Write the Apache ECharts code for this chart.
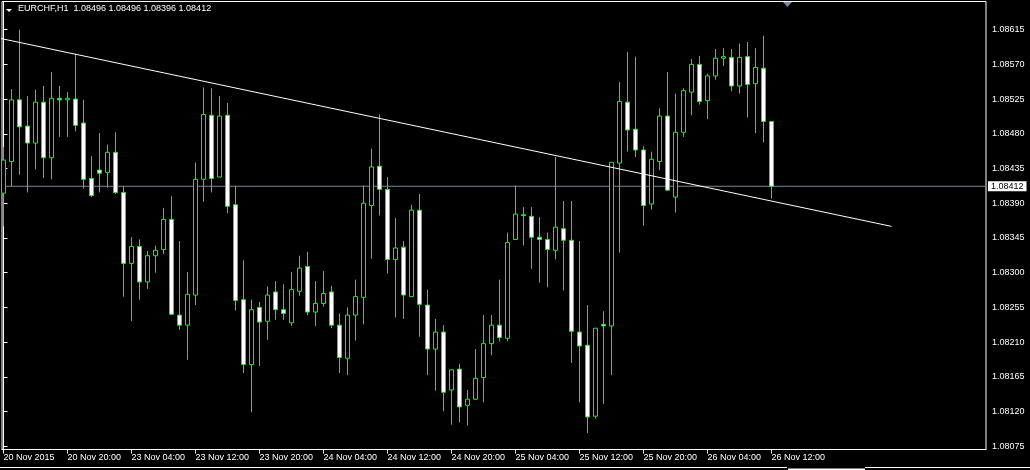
<!DOCTYPE html>
<html><head><meta charset="utf-8">
<script src="https://cdn.jsdelivr.net/npm/echarts@6/dist/echarts.min.js"></script>
<style>html,body{margin:0;padding:0;background:#000;}#c{width:1030px;height:470px;}</style>
</head><body><div id="c"></div>
<script>
const symbolName = "EURCHF,H1";
const openP = [1.08403,1.08444,1.08524,1.08490,1.08468,1.08521,1.08449,1.08526,1.08524,1.08525,
1.08494,1.08422,1.08433,1.08430,1.08456,1.08404,1.08312,1.08334,1.08288,1.08322,
1.08330,1.08369,1.08245,1.08232,1.08271,1.08421,1.08504,1.08424,1.08504,1.08388,
1.08265,1.08181,1.08255,1.08237,1.08275,1.08252,1.08235,1.08276,1.08308,1.08249,
1.08260,1.08275,1.08232,1.08189,1.08245,1.08268,1.08387,1.08438,1.08408,1.08317,
1.08333,1.08269,1.08381,1.08258,1.08201,1.08223,1.08148,1.08175,1.08128,1.08136,
1.08164,1.08208,1.08232,1.08215,1.08343,1.08375,1.08373,1.08346,1.08343,1.08329,
1.08357,1.08342,1.08223,1.08206,1.08114,1.08233,1.08231,1.08442,1.08521,1.08486,
1.08459,1.08389,1.08444,1.08503,1.08398,1.08482,1.08534,1.08570,1.08523,1.08555,
1.08578,1.08579,1.08542,1.08580,1.08545,1.08565,1.08496];
const highP = [1.08463,1.08538,1.08615,1.08529,1.08537,1.08542,1.08560,1.08542,1.08534,1.08584,
1.08524,1.08451,1.08481,1.08466,1.08482,1.08412,1.08346,1.08343,1.08328,1.08335,
1.08384,1.08399,1.08341,1.08301,1.08443,1.08540,1.08539,1.08529,1.08520,1.08412,
1.08316,1.08265,1.08262,1.08282,1.08289,1.08285,1.08301,1.08322,1.08327,1.08289,
1.08302,1.08283,1.08247,1.08255,1.08291,1.08413,1.08461,1.08505,1.08424,1.08371,
1.08341,1.08388,1.08402,1.08278,1.08240,1.08232,1.08175,1.08182,1.08148,1.08201,
1.08245,1.08245,1.08291,1.08352,1.08413,1.08385,1.08385,1.08372,1.08352,1.08450,
1.08393,1.08393,1.08341,1.08258,1.08228,1.08250,1.08443,1.08547,1.08586,1.08580,
1.08464,1.08457,1.08513,1.08560,1.08532,1.08539,1.08577,1.08581,1.08558,1.08590,
1.08591,1.08590,1.08597,1.08599,1.08591,1.08607,1.08496];
const lowP = [1.08360,1.08412,1.08427,1.08404,1.08434,1.08423,1.08421,1.08476,1.08476,1.08483,
1.08409,1.08398,1.08404,1.08410,1.08402,1.08269,1.08237,1.08265,1.08279,1.08300,
1.08324,1.08245,1.08226,1.08187,1.08258,1.08392,1.08404,1.08424,1.08377,1.08251,
1.08170,1.08119,1.08179,1.08213,1.08239,1.08239,1.08231,1.08270,1.08245,1.08231,
1.08256,1.08228,1.08170,1.08167,1.08212,1.08233,1.08318,1.08374,1.08299,1.08242,
1.08240,1.08269,1.08217,1.08167,1.08147,1.08120,1.08103,1.08106,1.08102,1.08135,
1.08132,1.08193,1.08211,1.08211,1.08343,1.08335,1.08305,1.08287,1.08281,1.08317,
1.08277,1.08183,1.08132,1.08092,1.08111,1.08130,1.08167,1.08326,1.08457,1.08450,
1.08361,1.08382,1.08433,1.08406,1.08378,1.08476,1.08504,1.08518,1.08499,1.08550,
1.08568,1.08535,1.08532,1.08501,1.08481,1.08469,1.08396];
const closeP = [1.08446,1.08524,1.08489,1.08468,1.08521,1.08449,1.08526,1.08524,1.08526,1.08491,
1.08421,1.08400,1.08429,1.08456,1.08404,1.08312,1.08334,1.08288,1.08322,1.08329,
1.08369,1.08246,1.08232,1.08272,1.08421,1.08505,1.08422,1.08503,1.08386,1.08264,
1.08181,1.08252,1.08236,1.08271,1.08252,1.08247,1.08278,1.08306,1.08249,1.08260,
1.08273,1.08232,1.08190,1.08245,1.08269,1.08390,1.08437,1.08408,1.08317,1.08332,
1.08271,1.08381,1.08259,1.08201,1.08223,1.08145,1.08174,1.08126,1.08136,1.08163,
1.08208,1.08232,1.08216,1.08339,1.08376,1.08374,1.08346,1.08343,1.08330,1.08359,
1.08342,1.08224,1.08205,1.08113,1.08228,1.08231,1.08443,1.08522,1.08485,1.08459,
1.08387,1.08447,1.08503,1.08407,1.08482,1.08536,1.08570,1.08522,1.08555,1.08578,
1.08580,1.08542,1.08579,1.08544,1.08566,1.08496,1.08412];
const timeTickIndex = [0,8,16,24,32,40,48,56,64,72,80,88,96];
const timeTickLabels = ["20 Nov 2015","20 Nov 20:00","23 Nov 04:00","23 Nov 12:00","23 Nov 20:00",
"24 Nov 04:00","24 Nov 12:00","24 Nov 20:00","25 Nov 04:00","25 Nov 12:00","25 Nov 20:00",
"26 Nov 04:00","26 Nov 12:00"];
const priceTicks = [1.08075,1.08120,1.08165,1.08210,1.08255,1.08300,1.08345,1.08390,1.08435,1.08480,1.08525,1.08570,1.08615];
const trendIndex = [-1, 111];
const trendPrice = [1.08605, 1.08360];
const bidPrice = 1.08412;

const FONT = 'Liberation Sans';
const X_MIN = -0.1875, X_MAX = 122.8125;
const last = openP.length - 1;
const candles = openP.map((o, i) => [i, o, closeP[i], lowP[i], highP[i]]);
const chart = echarts.init(document.getElementById('c'), null, {renderer: 'canvas'});
chart.setOption({
  backgroundColor: '#000',
  animation: false,
  title: {
    text: symbolName + '  ' + [openP[last], highP[last], lowP[last], closeP[last]].map(v => v.toFixed(5)).join(' '),
    left: 18, top: 4, padding: 0,
    textStyle: {color: '#fff', fontFamily: FONT, fontSize: 9, fontWeight: 'normal'}
  },
  grid: {left: 2, top: 1.5, width: 984, height: 448, show: true, borderColor: '#fff', borderWidth: 1, backgroundColor: '#000'},
  xAxis: {
    type: 'value', min: X_MIN, max: X_MAX,
    splitLine: {show: false},
    axisLine: {show: true, onZero: false, lineStyle: {color: '#fff'}},
    axisTick: {show: true, customValues: timeTickIndex, length: 4, lineStyle: {color: '#fff'}},
    axisLabel: {customValues: timeTickIndex, formatter: v => timeTickLabels[timeTickIndex.indexOf(v)],
      color: '#fff', fontFamily: FONT, fontSize: 9, align: 'left', margin: 4, showMinLabel: true, showMaxLabel: true}
  },
  yAxis: {
    type: 'value', position: 'right', min: 1.080708, max: 1.086515,
    splitLine: {show: false},
    axisLine: {show: true, lineStyle: {color: '#fff'}},
    axisTick: {show: true, customValues: priceTicks, length: 4, lineStyle: {color: '#fff'}},
    axisLabel: {customValues: priceTicks, formatter: v => v.toFixed(5), color: '#fff', fontFamily: FONT, fontSize: 9, margin: 6}
  },
  series: [
    {
      type: 'line', name: 'bid', data: [[X_MIN, bidPrice], [X_MAX, bidPrice]], symbol: 'none',
      lineStyle: {color: '#778899', width: 1}, z: 1, silent: true, clip: false,
      endLabel: {show: true, distance: 2, formatter: () => bidPrice.toFixed(5),
        backgroundColor: '#fff', color: '#000', fontFamily: FONT, fontSize: 9, padding: [1, 3, 0, 3]}
    },
    {
      type: 'candlestick', data: candles, encode: {x: 0, y: [1, 2, 3, 4]}, barWidth: 5,
      itemStyle: {color: '#000', color0: '#fff', borderColor: '#00ff00', borderColor0: '#00ff00', borderWidth: 1},
      z: 2
    },
    {
      type: 'line', data: trendIndex.map((x, i) => [x, trendPrice[i]]), symbol: 'none',
      lineStyle: {color: '#fff', width: 1}, z: 3, silent: true
    }
  ],
  graphic: [
    {type: 'polygon', shape: {points: [[6, 9], [12, 9], [9, 12]]}, style: {fill: '#fff'}},
    {type: 'polygon', shape: {points: [[783, 2], [792, 2], [787.5, 7]]}, style: {fill: '#778899'}},
    {type: 'line', shape: {x1: 0, y1: 467.5, x2: 787, y2: 467.5}, style: {stroke: '#fff', lineWidth: 1}},
    {type: 'rect', shape: {x: 788, y: 468.5, width: 77, height: 2}, style: {fill: '#fff'}},
    {type: 'line', shape: {x1: 865, y1: 467.5, x2: 1030, y2: 467.5}, style: {stroke: '#fff', lineWidth: 1}}
  ]
});
</script></body></html>
